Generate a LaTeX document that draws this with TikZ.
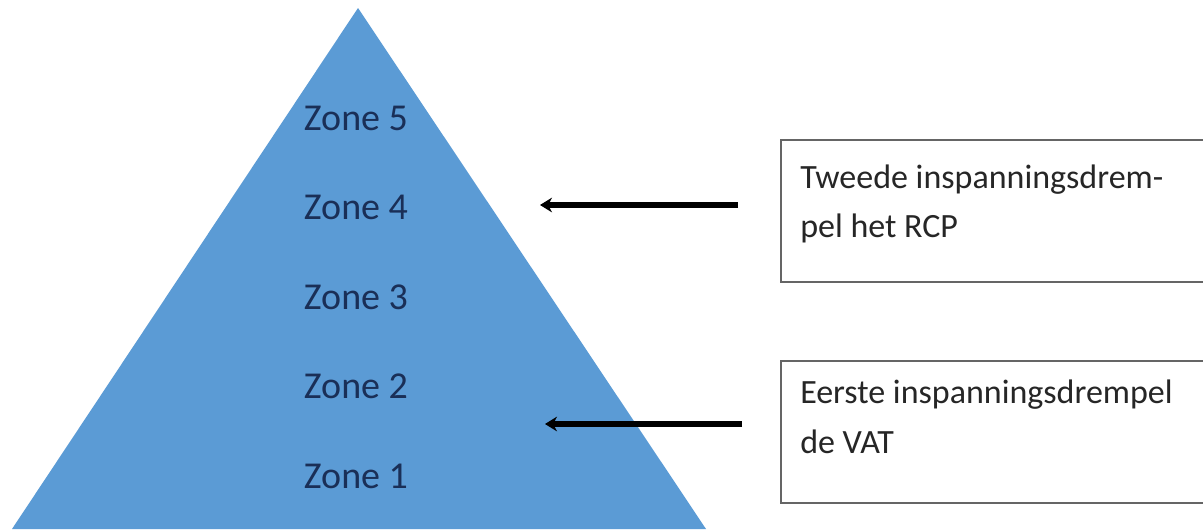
\documentclass[tikz,border=0pt]{standalone}
\usepackage{fontspec}
\setmainfont{Carlito}
\usetikzlibrary{arrows.meta}
\definecolor{pyrblue}{HTML}{5B9BD5}
\definecolor{zonetxt}{HTML}{1A2F57}
\definecolor{boxline}{HTML}{656565}
\begin{document}
\begin{tikzpicture}[x=0.75pt,y=-0.75pt,
  zonelbl/.style={anchor=base, inner sep=0pt, text=zonetxt, font=\fontsize{28.5}{34}\selectfont},
  boxlbl/.style={anchor=base west, inner sep=0pt, text=black!85, font=\fontsize{25.5}{30}\selectfont},
  infobox/.style={draw=boxline, line width=1.6pt, fill=white, anchor=north west, inner sep=0pt},
  arr/.style={line width=3.8pt, -{Stealth[length=9pt,width=11pt]}}]
\useasboundingbox (0,0) rectangle (1203,529);
\clip (0,0) rectangle (1203,529);
\fill[white] (0,0) rectangle (1203,529);
% pyramid
\fill[pyrblue] (358,8) -- (706,529) -- (12,529) -- cycle;
\node[zonelbl] (z5) at (356,130) {Zone 5};
\node[zonelbl] (z4) at (356,219) {Zone 4};
\node[zonelbl] (z3) at (356,309) {Zone 3};
\node[zonelbl] (z2) at (356,398) {Zone 2};
\node[zonelbl] (z1) at (356,488) {Zone 1};
% boxes
\node[infobox, minimum width=460*0.75pt, minimum height=142*0.75pt] (box1) at (780,139) {};
\node[infobox, minimum width=460*0.75pt, minimum height=142*0.75pt] (box2) at (780,360) {};
\node[boxlbl] (t1a) at (800,188) {Tweede inspanningsdrem-};
\node[boxlbl] (t1b) at (800,237) {pel het RCP};
\node[boxlbl] (t2a) at (800,403) {Eerste inspanningsdrempel};
\node[boxlbl] (t2b) at (800,453) {de VAT};
% arrows
\coordinate (a1s) at (738,205);
\coordinate (a1e) at (540,205);
\coordinate (a2s) at (742,424);
\coordinate (a2e) at (545,424);
\draw[arr] (a1s) -- (a1e);
\draw[arr] (a2s) -- (a2e);
\end{tikzpicture}
\end{document}
